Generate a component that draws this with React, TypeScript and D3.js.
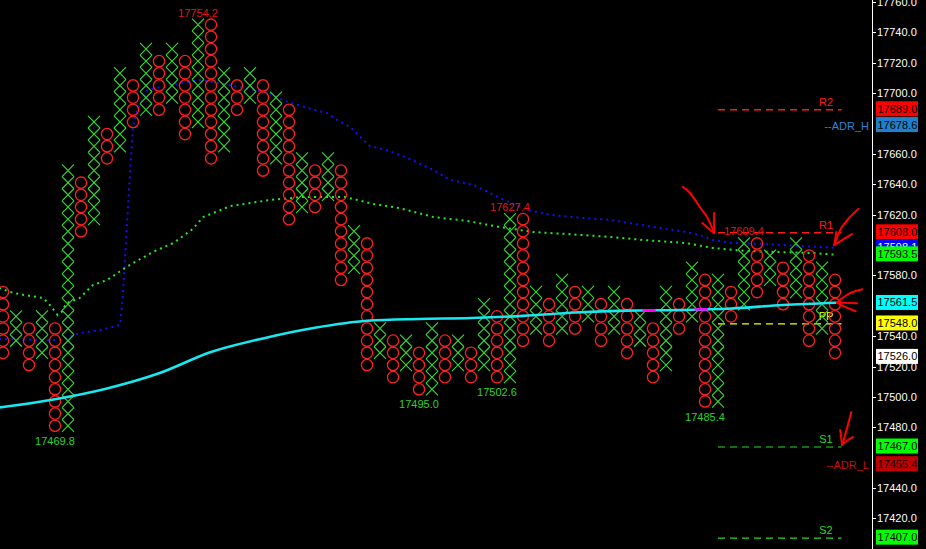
import React from 'react';
import * as d3 from 'd3';

const W = 926;
const H = 549;
const BOX = 8;

// Point & figure columns: [type, top of top box, bottom of bottom box]
const columns: [string, number, number][] = [
  ['O', 17573, 17525], ['X', 17557, 17533], ['O', 17549, 17517], ['X', 17557, 17525],
  ['O', 17549, 17477], ['X', 17653, 17477], ['O', 17645, 17605], ['X', 17685, 17613],
  ['O', 17677, 17653], ['X', 17717, 17661], ['O', 17709, 17677], ['X', 17733, 17685],
  ['O', 17725, 17685], ['X', 17733, 17693], ['O', 17725, 17669], ['X', 17749, 17677],
  ['O', 17749, 17653], ['X', 17717, 17661], ['O', 17709, 17685], ['X', 17717, 17693],
  ['O', 17709, 17645], ['X', 17701, 17653], ['O', 17693, 17613], ['X', 17661, 17621],
  ['O', 17653, 17621], ['X', 17661, 17629], ['O', 17653, 17573], ['X', 17613, 17581],
  ['O', 17605, 17517], ['X', 17549, 17525], ['O', 17541, 17509], ['X', 17541, 17517],
  ['O', 17533, 17501], ['X', 17549, 17501], ['O', 17541, 17509], ['X', 17541, 17517],
  ['O', 17533, 17509], ['X', 17565, 17517], ['O', 17557, 17509], ['X', 17621, 17509],
  ['O', 17621, 17533], ['X', 17573, 17541], ['O', 17565, 17533], ['X', 17581, 17541],
  ['O', 17573, 17541], ['X', 17573, 17549], ['O', 17565, 17533], ['X', 17573, 17541],
  ['O', 17565, 17525], ['X', 17557, 17533], ['O', 17549, 17509], ['X', 17573, 17517],
  ['O', 17565, 17541], ['X', 17589, 17549], ['O', 17581, 17493], ['X', 17581, 17493],
  ['O', 17573, 17549], ['X', 17605, 17557], ['O', 17605, 17565], ['X', 17597, 17573],
  ['O', 17589, 17557], ['X', 17605, 17565], ['O', 17597, 17533], ['X', 17589, 17541],
  ['O', 17581, 17525],
];

// Swing labels: [column, value, kind]
const swingLabels: [number, string, string][] = [
  [15, '17754.2', 'high'],
  [39, '17627.4', 'high'],
  [57, '17609.4', 'high'],
  [4, '17469.8', 'low'],
  [32, '17495.0', 'low'],
  [38, '17502.6', 'low'],
  [54, '17485.4', 'low'],
];

// Moving-average style lines: [column position, price]
const cyanLine: [number, number][] = [
  [-0.3, 17493.0], [0, 17493.3], [4, 17498.4], [8, 17505.5], [12, 17515.5], [16, 17529.5],
  [20, 17538.5], [24, 17545.5], [28, 17550.1], [32, 17551.3], [36, 17551.9],
  [40, 17553.3], [44, 17555.5], [48, 17556.8], [52, 17557.2], [56, 17558.2],
  [60, 17560.5], [64.1, 17562.0],
];
const magentaRanges: [number, number][] = [[49.2, 50.2], [53.2, 54.2]];

const greenLine: [number, number][] = [
  [-0.3, 17571.7], [0.8, 17568.4], [2.1, 17566.4], [3.1, 17565.1], [3.6, 17560.5],
  [4.2, 17553.9], [4.5, 17555.9], [4.9, 17561.8], [5.9, 17565.1], [6.9, 17573.6],
  [8.0, 17576.9], [9.5, 17585.5], [11.5, 17595.3], [13.1, 17601.3], [14.6, 17610.5], [15.4, 17618.4],
  [17.5, 17625.6], [20.5, 17629.6], [23.1, 17631.6], [26.3, 17631.6], [28.5, 17627.0],
  [30.5, 17624.3], [33.1, 17618.4], [35.7, 17615.8], [38.2, 17611.8], [40.8, 17608.5],
  [43.4, 17607.2], [46.7, 17605.3], [49.2, 17603.3], [52.5, 17601.3], [54.6, 17598.0],
  [57.2, 17596.0], [59.8, 17595.3], [62.3, 17594.7], [64.2, 17593.5],
];

const blueLine: [number, number][] = [
  [-0.3, 17538.1], [3.1, 17537.4], [4.4, 17537.4], [5.9, 17542.0], [7.5, 17544.0],
  [9.0, 17547.3], [9.2, 17563.8], [9.5, 17607.9], [9.8, 17651.3], [10.0, 17677.7],
  [10.3, 17688.8], [11.1, 17702.0], [12.8, 17705.3], [15.2, 17708.6], [18.2, 17704.0],
  [20.5, 17700.0], [21.5, 17695.4], [23.4, 17690.2], [24.9, 17686.9], [25.7, 17682.3],
  [26.7, 17677.7], [28.2, 17665.2], [29.5, 17662.5], [31.1, 17657.3], [33.1, 17649.4],
  [34.4, 17642.8], [36.2, 17639.5], [38.2, 17631.0], [40.3, 17623.1], [42.1, 17619.8],
  [44.6, 17617.8], [46.7, 17616.5], [50.5, 17611.2], [52.5, 17608.6], [53.6, 17606.6],
  [54.6, 17603.3], [55.9, 17601.4], [58.5, 17600.7], [61.1, 17599.4], [64.2, 17598.1],
];

// Pivot levels
const levelNames = ['R2', 'R1', 'PP', 'S1', 'S2'];
const levelValues = [17689.0, 17608.0, 17548.0, 17467.0, 17407.0];
const levelColors = ['#ff1a1a', '#ff1a1a', '#ffff00', '#22dd22', '#22dd22'];
const levelRange: [number, number] = [55, 64.5];

// ADR labels
const adrNames = ['--ADR_H', '--ADR_L'];
const adrValues = [17678.6, 17455.4];
const adrColors = ['#2a86d6', '#c01010'];

// Axis tick labels visible in the picture (others sit under the value tags)
const axisTicks = [17760, 17740, 17720, 17700, 17660, 17640, 17620,
  17580, 17540, 17520, 17500, 17480, 17440, 17420];

// Value tags on the axis: [value, background, text colour]
const valueTags: [number, string, string][] = [
  [17689.0, '#ff0000', '#000000'],
  [17678.6, '#1f80cc', '#000000'],
  [17608.0, '#ff0000', '#000000'],
  [17598.1, '#0000ff', '#ffffff'],
  [17593.5, '#00ff00', '#000000'],
  [17561.5, '#00ffff', '#000000'],
  [17548.0, '#ffff00', '#000000'],
  [17526.0, '#ffffff', '#000000'],
  [17467.0, '#00ff00', '#000000'],
  [17455.4, '#c00000', '#000000'],
  [17407.0, '#00ff00', '#000000'],
];

// Hand-drawn red arrows: list of strokes, each a list of [column position, price]
const arrows: [number, number][][] = [
  [[52.3, 17638.2], [52.85, 17634.2], [53.6, 17625.0], [54.15, 17618.4], [54.55, 17611.2], [54.7, 17607.9]],
  [[54.7, 17621.0], [54.7, 17607.9]],
  [[53.8, 17614.4], [54.3, 17610.5], [54.7, 17607.9]],
  [[65.8, 17623.7], [65.15, 17618.4], [64.4, 17609.9], [63.95, 17600.0]],
  [[64.1, 17608.5], [63.95, 17600.0]],
  [[65.3, 17607.2], [64.6, 17603.5], [63.95, 17600.0]],
  [[66.1, 17570.9], [65.15, 17568.3], [64.15, 17562.1]],
  [[65.7, 17561.7], [64.15, 17562.1]],
  [[65.6, 17556.4], [65.0, 17558.4], [64.15, 17562.1]],
  [[65.25, 17490.0], [64.95, 17480.1], [64.55, 17468.3]],
  [[64.4, 17478.2], [64.55, 17468.3]],
  [[65.4, 17473.6], [64.9, 17471.0], [64.55, 17468.3]],
];

const FONT = '"Liberation Sans", Arial, sans-serif';

export default function App() {
  const x = d3.scaleLinear().domain([0, 64]).range([3, 835]);
  const y = d3.scaleLinear().domain([17400, 17760]).range([548.8, 1.9]);
  const boxPx = y(17400) - y(17400 + BOX);
  const half = 6;

  const line = d3.line<[number, number]>().x(d => x(d[0])).y(d => y(d[1]));
  const smooth = d3.line<[number, number]>().x(d => x(d[0])).y(d => y(d[1])).curve(d3.curveMonotoneX);
  const arrowLine = d3.line<[number, number]>().x(d => x(d[0])).y(d => y(d[1])).curve(d3.curveCatmullRom);

  const glyphs: React.ReactNode[] = [];
  columns.forEach((c, k) => {
    const [type, top, bottom] = c;
    const n = Math.round((top - bottom) / BOX);
    const cx = x(k);
    for (let i = 0; i < n; i++) {
      const yt = y(top - i * BOX);
      const yb = yt + boxPx;
      if (type === 'X') {
        glyphs.push(
          <path key={`x${k}-${i}`} d={`M${cx - half},${yt}L${cx + half},${yb}M${cx + half},${yt}L${cx - half},${yb}`}
            stroke="#33dd33" strokeWidth={1.1} fill="none" />
        );
      } else {
        glyphs.push(
          <ellipse key={`o${k}-${i}`} cx={cx} cy={(yt + yb) / 2} rx={5.6} ry={5.7}
            stroke="#ff2020" strokeWidth={1.3} fill="none" />
        );
      }
    }
  });

  const cyanPath = smooth(cyanLine) || '';

  return (
    <div style={{ position: 'absolute', left: 0, top: 0, width: W, height: H, background: '#000' }}>
      <svg width={W} height={H} style={{ display: 'block', background: '#000' }} fontFamily={FONT}>
        <defs>
          <clipPath id="plotclip">
            <rect x={0} y={0} width={870} height={H} />
          </clipPath>
          <clipPath id="magclip">
            {magentaRanges.map((r, i) => (
              <rect key={i} x={x(r[0])} y={0} width={x(r[1]) - x(r[0])} height={H} />
            ))}
          </clipPath>
        </defs>
        <rect x={0} y={0} width={W} height={H} fill="#000" />
        <g clipPath="url(#plotclip)">
          {/* pivot level lines */}
          {levelValues.map((v, i) => (
            <g key={levelNames[i]}>
              <line x1={x(levelRange[0])} x2={x(levelRange[1])} y1={y(v)} y2={y(v)}
                stroke={levelColors[i]} strokeWidth={i < 2 ? 1.5 : 1.2} strokeDasharray="7 5" />
              <text x={826} y={y(v) - 4} fill={levelColors[i]} fontSize={11} textAnchor="middle">{levelNames[i]}</text>
            </g>
          ))}
          {/* blue & green dotted lines */}
          <path d={line(blueLine) || ''} stroke="#1010ff" strokeWidth={2} fill="none" strokeDasharray="2 4" />
          <path d={line(greenLine) || ''} stroke="#22ee22" strokeWidth={2} fill="none" strokeDasharray="2 4" />
          {/* P&F glyphs */}
          {glyphs}
          {/* cyan line */}
          <path d={cyanPath} stroke="#19e8f0" strokeWidth={2.6} fill="none" />
          <path d={cyanPath} stroke="#ff00ff" strokeWidth={2.6} fill="none" clipPath="url(#magclip)" />
          {/* swing labels */}
          {swingLabels.map(([k, txt, kind]) => {
            const col = columns[k];
            const ty = kind === 'high' ? y(col[1]) - 2 : y(col[2]) + 13;
            return (
              <text key={txt} x={x(k)} y={ty} fill={kind === 'high' ? '#e01414' : '#2ad42a'}
                fontSize={11} textAnchor="middle">{txt}</text>
            );
          })}
          {/* ADR labels */}
          {adrValues.map((v, i) => (
            <text key={adrNames[i]} x={869} y={y(v) + 4} fill={adrColors[i]} fontSize={11} textAnchor="end">{adrNames[i]}</text>
          ))}
          {/* hand-drawn arrows */}
          {arrows.map((a, i) => (
            <path key={i} d={arrowLine(a) || ''} stroke="#ff0000" strokeWidth={2} fill="none"
              strokeLinecap="round" strokeLinejoin="round" />
          ))}
        </g>
        {/* right axis */}
        <line x1={872.5} x2={872.5} y1={0} y2={H} stroke="#ffffff" strokeWidth={1} />
        {axisTicks.map(t => (
          <g key={t}>
            <line x1={873} x2={876} y1={Math.round(y(t)) + 0.5} y2={Math.round(y(t)) + 0.5} stroke="#fff" strokeWidth={1} />
            <text x={877} y={y(t) + 4} fill="#ffffff" fontSize={11}>{t.toFixed(1)}</text>
          </g>
        ))}
        {valueTags.map(([v, bg, fg]) => (
          <g key={v}>
            <rect x={876} y={y(v) - 8.5} width={42} height={15} fill={bg} />
            <text x={877.5} y={y(v) + 3} fill={fg} fontSize={11}>{v.toFixed(1)}</text>
          </g>
        ))}
      </svg>
    </div>
  );
}
